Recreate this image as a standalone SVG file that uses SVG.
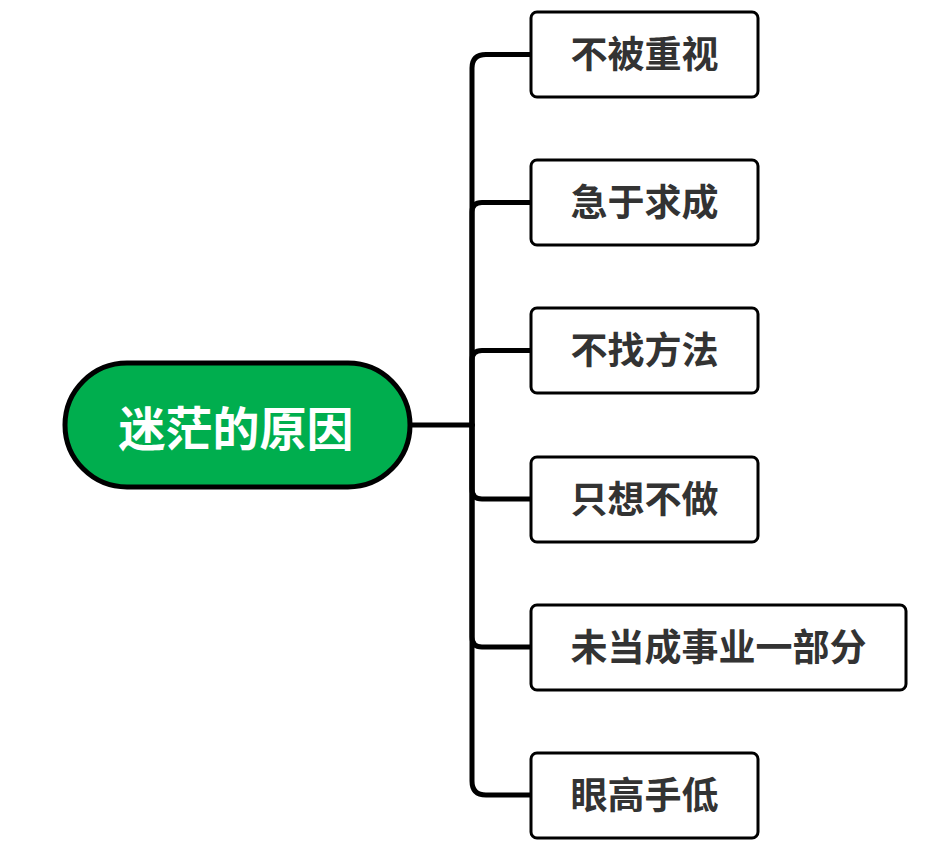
<svg xmlns="http://www.w3.org/2000/svg" width="926" height="844" viewBox="0 0 926 844">
<style>
.conn{fill:none;stroke:#000;stroke-width:5;stroke-linecap:round;stroke-linejoin:round}
.box{fill:#fff;stroke:#000;stroke-width:3}
.lbl{font-family:"Noto Sans CJK SC","Noto Sans",sans-serif;font-weight:bold;font-size:37px;fill:#333;text-anchor:middle;dominant-baseline:central}
.root{fill:#00AE4E;stroke:#000;stroke-width:5}
.rlbl{font-family:"Noto Sans CJK SC","Noto Sans",sans-serif;font-weight:bold;font-size:47px;fill:#fff;text-anchor:middle;dominant-baseline:central}
</style>
<rect width="926" height="844" fill="#fff"/>
<g id="connectors">
<path class="conn" d="M410 425 H472"/>
<path class="conn" d="M472 425 V68 Q472 54.5 486 54.5 H531"/>
<path class="conn" d="M472 425 V212 Q472 202.5 482 202.5 H531"/>
<path class="conn" d="M472 425 V360 Q472 350.5 482 350.5 H531"/>
<path class="conn" d="M472 425 V489 Q472 499 482 499 H531"/>
<path class="conn" d="M472 425 V637 Q472 647 482 647 H531"/>
<path class="conn" d="M472 425 V781 Q472 795 486 795 H531"/>
</g>
<g id="root">
<rect class="root" x="65" y="363" width="345" height="124" rx="62"/>
<text class="rlbl" x="236" y="425">迷茫的原因</text>
</g>
<g id="n1">
<rect class="box" x="531" y="12" width="227" height="85" rx="6"/>
<text class="lbl" x="644.5" y="52">不被重视</text>
</g>
<g id="n2">
<rect class="box" x="531" y="160" width="227" height="85" rx="6"/>
<text class="lbl" x="644.5" y="200">急于求成</text>
</g>
<g id="n3">
<rect class="box" x="531" y="308" width="227" height="85" rx="6"/>
<text class="lbl" x="644.5" y="348">不找方法</text>
</g>
<g id="n4">
<rect class="box" x="531" y="457" width="227" height="85" rx="6"/>
<text class="lbl" x="644.5" y="497">只想不做</text>
</g>
<g id="n5">
<rect class="box" x="531" y="605" width="375" height="85" rx="6"/>
<text class="lbl" x="718.5" y="645">未当成事业一部分</text>
</g>
<g id="n6">
<rect class="box" x="531" y="753" width="227" height="85" rx="6"/>
<text class="lbl" x="644.5" y="793">眼高手低</text>
</g>
</svg>
